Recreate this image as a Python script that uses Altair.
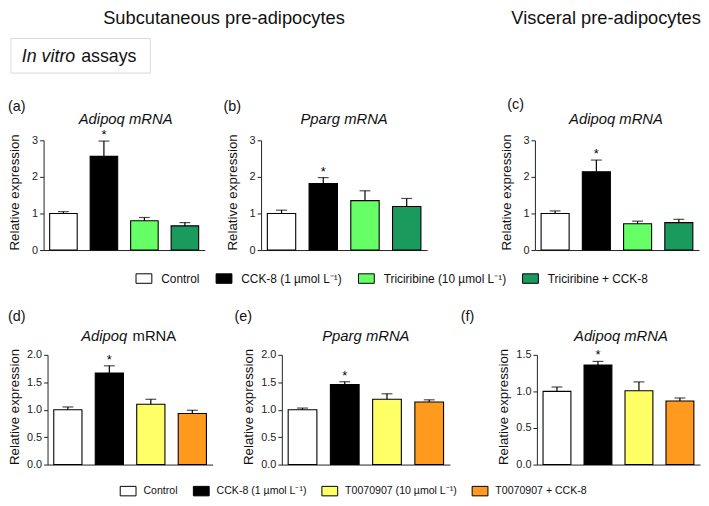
import altair as alt
import pandas as pd

W, H = 701, 492
FONT = "Liberation Sans"

# ---------------- data ----------------
treat_top = ["Control", "CCK-8 (1 µmol L⁻¹)", "Triciribine (10 µmol L⁻¹)", "Triciribine + CCK-8"]
treat_bot = ["Control", "CCK-8 (1 µmol L⁻¹)", "T0070907 (10 µmol L⁻¹)", "T0070907 + CCK-8"]
colors_top = ["#FFFFFF", "#000000", "#66FF66", "#1B9A5E"]
colors_bot = ["#FFFFFF", "#000000", "#FFFF66", "#FF9A1F"]
significant = [False, True, False, False]

a_mean = [1.00, 2.56, 0.80, 0.66]
a_err = [0.05, 0.42, 0.09, 0.09]
b_mean = [1.00, 1.82, 1.35, 1.19]
b_err = [0.09, 0.16, 0.27, 0.22]
c_mean = [1.00, 2.14, 0.72, 0.75]
c_err = [0.07, 0.32, 0.07, 0.09]
d_mean = [1.00, 1.67, 1.10, 0.93]
d_err = [0.05, 0.13, 0.09, 0.06]
e_mean = [1.00, 1.46, 1.19, 1.14]
e_err = [0.03, 0.05, 0.10, 0.04]
f_mean = [1.00, 1.36, 1.01, 0.87]
f_err = [0.06, 0.05, 0.12, 0.04]

ticks_row1 = [0, 1, 2, 3]
ticks_row2 = [0, 0.5, 1.0, 1.5, 2.0]
ticks_f = [0, 0.5, 1.0, 1.5]

SQUARE = "M-1,-0.6H1V0.6H-1Z"


def panel(mean, err, treats, colors, xr, yr, ydom, yvals, yfmt, tpad, legend):
    df = pd.DataFrame({"treatment": treats, "mean": mean, "err": err, "sig": significant})
    df["top"] = df["mean"] + df["err"]
    xs = alt.Scale(type="band", domain=treats, range=xr, paddingInner=0.32, paddingOuter=0.15)
    ys = alt.Scale(domain=ydom, range=yr, nice=False, zero=True)
    xax = alt.Axis(orient="bottom", offset=yr[0] - H, labels=False, ticks=False, title=None,
                   grid=False, domainColor="#222", domainWidth=1)
    yax = alt.Axis(orient="left", offset=-xr[0], values=yvals, format=yfmt,
                   title="Relative expression", titlePadding=tpad, titleAnchor="start",
                   titleFont=FONT, titleFontSize=13.5, titleFontWeight="normal", titleColor="#111",
                   labelFont=FONT, labelFontSize=11, labelColor="#222", labelPadding=2,
                   tickSize=4, tickColor="#222", domainColor="#222", grid=False)
    X = alt.X("treatment:N", scale=xs, axis=xax, sort=treats)
    base = alt.Chart(df)
    bars = base.mark_bar(stroke="black", strokeWidth=1.1).encode(
        x=X,
        y=alt.Y("mean:Q", scale=ys, axis=yax),
        color=alt.Color("treatment:N", scale=alt.Scale(domain=treats, range=colors),
                        sort=treats, legend=legend),
    )
    rule = base.mark_rule(color="black", strokeWidth=1.2).encode(
        x=X, y=alt.Y("mean:Q", scale=ys, axis=yax), y2="top:Q")
    cap = base.mark_tick(color="black", thickness=1.2, size=11).encode(
        x=X, y=alt.Y("top:Q", scale=ys, axis=yax))
    star = base.transform_filter("datum.sig").mark_text(
        text="*", dy=-6, fontSize=13, font=FONT, color="black").encode(
        x=X, y=alt.Y("top:Q", scale=ys, axis=yax), text=alt.value("*"))
    return alt.layer(bars, rule, cap, star)


def make_legend(x, y, size, offset, pad):
    return alt.Legend(orient="none", legendX=x, legendY=y, direction="horizontal", columns=4,
                      title=None, symbolType=SQUARE, symbolSize=256, symbolStrokeColor="black",
                      symbolStrokeWidth=1, symbolOpacity=1, labelFont=FONT, labelFontSize=size,
                      labelColor="#111", labelOffset=offset, columnPadding=pad, padding=0)


leg_top = make_legend(129, 262, 12, 9, 14)
leg_bot = make_legend(113, 477, 10.7, 7, 13)

r1y = [242, 131]
r2y = [459, 348]
pa = panel(a_mean, a_err, treat_top, colors_top, [36, 199], r1y, [0, 3], ticks_row1, "d", 10, leg_top)
pb = panel(b_mean, b_err, treat_top, colors_top, [256, 424], r1y, [0, 3], ticks_row1, "d", 10, leg_top)
pc = panel(c_mean, c_err, treat_top, colors_top, [533, 699], r1y, [0, 3], ticks_row1, "d", 10, leg_top)
pd_ = panel(d_mean, d_err, treat_bot, colors_bot, [40, 207], r2y, [0, 2], ticks_row2, ".1f", 5, leg_bot)
pe = panel(e_mean, e_err, treat_bot, colors_bot, [277, 447], r2y, [0, 2], ticks_row2, ".1f", 5, leg_bot)
pf = panel(f_mean, f_err, treat_bot, colors_bot, [535, 700], r2y, [0, 1.5], ticks_f, ".1f", 5, leg_bot)

row1 = alt.layer(pa, pb, pc).resolve_scale(x="independent", y="independent")
row2 = alt.layer(pd_, pe, pf).resolve_scale(x="independent", y="independent")

dummy = alt.Data(values=[{"k": 1}])


def txt(s, x, y, size, style="normal", align="center", baseline="middle"):
    return alt.Chart(dummy).mark_text(
        fontSize=size, fontStyle=style, align=align, baseline=baseline, font=FONT, color="#111"
    ).encode(x=alt.value(x), y=alt.value(y), text=alt.value(s))


box = alt.Chart(dummy).mark_rect(fill="white", stroke="#d9d9d9", strokeWidth=1).encode(
    x=alt.value(3), x2=alt.value(144), y=alt.value(28), y2=alt.value(63))

annotations = [
    txt("Subcutaneous pre-adipocytes", 218.5, 13, 18.5, baseline="alphabetic"),
    txt("Visceral pre-adipocytes", 605, 13, 18.5, baseline="alphabetic"),
    box,
    txt("In vitro", 14, 52, 18, style="italic", align="left", baseline="alphabetic"),
    txt("assays", 74, 52, 18, align="left", baseline="alphabetic"),
    txt("(a)", 0, 97, 14.5, align="left"),
    txt("(b)", 218, 97, 14.5, align="left"),
    txt("(c)", 505, 95, 14.5, align="left"),
    txt("(d)", 0, 310, 14.5, align="left"),
    txt("(e)", 229, 310, 14.5, align="left"),
    txt("(f)", 458, 310, 14.5, align="left"),
    txt("Adipoq mRNA", 119, 110, 15, style="italic"),
    txt("Pparg mRNA", 340, 110, 15, style="italic"),
    txt("Adipoq mRNA", 615, 110, 15, style="italic"),
    txt("Adipoq", 74, 329, 15, style="italic", align="left"),
    txt("mRNA", 126, 329, 15, align="left"),
    txt("Pparg mRNA", 362, 329, 15, style="italic"),
    txt("Adipoq mRNA", 620, 329, 15, style="italic"),
]

chart = alt.layer(row1, row2, *annotations).resolve_scale(
    x="independent", y="independent", color="independent"
).properties(
    width=W, height=H, autosize=alt.AutoSizeParams(type="none"), padding=0
).configure_view(stroke=None)

chart.save("out.html", embed_options={"renderer": "svg", "actions": False})
